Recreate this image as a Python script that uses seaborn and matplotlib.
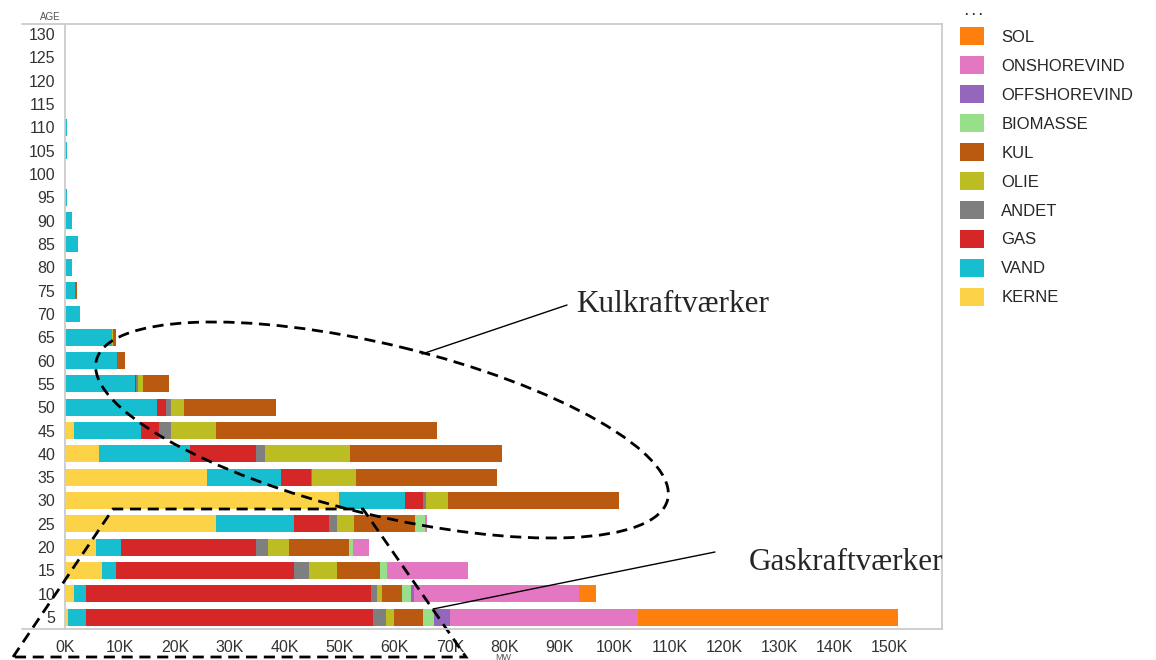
import matplotlib
matplotlib.use("Agg")
import matplotlib.pyplot as plt
from matplotlib.patches import Ellipse, Patch, Polygon
from matplotlib.lines import Line2D
from matplotlib.transforms import Affine2D
import numpy as np
import pandas as pd
import seaborn as sns

# ages (5 .. 130) and installed capacity per fuel, in thousand MW
ages = [5, 10, 15, 20, 25, 30, 35, 40, 45, 50, 55, 60, 65,
        70, 75, 80, 85, 90, 95, 100, 105, 110, 115, 120, 125, 130]

kerne = [0.6, 1.6, 6.8, 5.6, 27.5, 49.9, 25.9, 6.2, 1.6, 0, 0, 0, 0,
         0, 0, 0, 0, 0, 0, 0, 0, 0, 0, 0, 0, 0]
vand = [3.3, 2.3, 2.5, 4.5, 14.2, 11.9, 13.4, 16.5, 12.3, 16.8, 12.7, 9.5, 8.5,
        2.7, 1.8, 1.3, 2.3, 1.3, 0.3, 0, 0.4, 0.3, 0, 0, 0, 0]
gas = [52.1, 51.8, 32.4, 24.6, 6.4, 3.3, 5.4, 12.0, 3.2, 1.6, 0.3, 0, 0,
       0, 0, 0, 0, 0, 0, 0, 0, 0, 0, 0, 0, 0]
andet = [2.4, 1.1, 2.7, 2.2, 1.3, 0.5, 0.2, 1.6, 2.1, 0.8, 0.3, 0, 0,
         0, 0, 0, 0, 0, 0, 0, 0, 0, 0, 0, 0, 0]
olie = [1.5, 0.9, 5.0, 3.9, 3.2, 4.1, 8.1, 15.6, 8.2, 2.4, 0.9, 0, 0.2,
        0, 0, 0, 0, 0, 0, 0, 0, 0, 0, 0, 0, 0]
kul = [5.2, 3.6, 7.9, 10.8, 11.1, 31.0, 25.6, 27.5, 40.2, 16.7, 4.8, 1.4, 0.5,
       0, 0.4, 0, 0, 0, 0, 0, 0, 0, 0, 0, 0, 0]
biomasse = [2.1, 1.7, 1.3, 0.7, 1.8] + [0] * 21
offshorevind = [2.8, 0.5] + [0] * 24
onshorevind = [34.3, 30.0, 14.7, 2.9, 0.4] + [0] * 21
sol = [47.2, 3.1] + [0] * 24

fuels = ["KERNE", "VAND", "GAS", "ANDET", "OLIE", "KUL",
         "BIOMASSE", "OFFSHOREVIND", "ONSHOREVIND", "SOL"]
colors = ["#fcd246", "#17becf", "#d62728", "#7f7f7f", "#bcbd22", "#b95a10",
          "#98df8a", "#9467bd", "#e377c2", "#ff7f0e"]
xticks = [0, 10, 20, 30, 40, 50, 60, 70, 80, 90, 100, 110, 120, 130, 140, 150]
xticklabels = [f"{t}K" for t in xticks]

df = pd.DataFrame({"AGE": [str(a) for a in ages], "KERNE": kerne, "VAND": vand,
                   "GAS": gas, "ANDET": andet, "OLIE": olie, "KUL": kul,
                   "BIOMASSE": biomasse, "OFFSHOREVIND": offshorevind,
                   "ONSHOREVIND": onshorevind, "SOL": sol})
cum = df[fuels].cumsum(axis=1)
order = [str(a) for a in ages[::-1]]

sns.set_style("white")
plt.rcParams["font.family"] = ["Liberation Sans", "DejaVu Sans"]

fig = plt.figure(figsize=(11.56, 6.6), dpi=100)
ax = fig.add_axes([65 / 1156, 1 - 629 / 660, (942 - 65) / 1156, (629 - 24) / 660])

# stacked bars: draw cumulative totals from the outermost layer inwards
for fuel, col in reversed(list(zip(fuels, colors))):
    sns.barplot(x=cum[fuel], y=df["AGE"], order=order, color=col, saturation=1,
                width=0.72, linewidth=0, errorbar=None, orient="h", ax=ax)

ax.set_xlim(0, 159.5)
ax.set_ylim(25.51, -0.43)
ax.set_xticks(xticks)
ax.set_xticklabels(xticklabels)
ax.set_xlabel("")
ax.set_ylabel("")
ax.tick_params(axis="x", length=4, width=1, color="#cccccc", pad=4,
               labelsize=11.5, labelcolor="#333333")
ax.tick_params(axis="y", length=0, pad=7, labelsize=11.5, labelcolor="#333333")
for s in ax.spines.values():
    s.set_color("#cccccc")
    s.set_linewidth(1.3)
ax.spines["top"].set_visible(False)
ax.spines["bottom"].set_visible(False)

# helper: image pixel coords (y down) -> display
px = Affine2D().scale(1 / 100, -1 / 100).translate(0, 6.6) + fig.dpi_scale_trans

# outer frame lines extending left beyond the y axis
for yy in (24, 629):
    fig.add_artist(Line2D([22, 942], [yy, yy], transform=px, color="#cccccc", lw=1.3))

fig.text(50, 17, "AGE", transform=px, fontsize=7, color="#555555", ha="center", va="center")
fig.text(503, 653, "MW", transform=px, fontsize=6.5, color="#555555", ha="center", va="top")
fig.text(974, 12, ". . .", transform=px, fontsize=9, color="#333333", ha="center",
         va="center", fontweight="bold")

handles = [Patch(facecolor=c, edgecolor="none", label=f) for f, c in zip(fuels, colors)]
fig.legend(handles=handles[::-1], loc="upper left", bbox_to_anchor=(957 / 1156, 1 - 24 / 660),
           frameon=False, fontsize=12, handlelength=1.4, handleheight=1.25,
           handletextpad=1.05, labelspacing=0.68, borderaxespad=0, borderpad=0.2)

# annotations
dash = (0, (4, 2.4))
fig.add_artist(Ellipse((382, 430), 588, 170, angle=13.7, transform=px, fill=False,
                       edgecolor="black", lw=2, linestyle=dash))
fig.add_artist(Polygon([(13, 657), (113, 509), (363, 509), (466, 657)], closed=True,
                       transform=px, fill=False, edgecolor="black", lw=2, linestyle=dash))
fig.add_artist(Line2D([422, 567], [354, 305], transform=px, color="black", lw=1))
fig.add_artist(Line2D([433, 715], [609, 552], transform=px, color="black", lw=1))
fig.text(576, 304, "Kulkraftværker", transform=px, fontsize=22.5, ha="left", va="center",
         family=["Liberation Serif", "DejaVu Serif"])
fig.text(749, 562, "Gaskraftværker", transform=px, fontsize=22.5, ha="left", va="center",
         family=["Liberation Serif", "DejaVu Serif"])

fig.savefig("out.png", dpi=100)
